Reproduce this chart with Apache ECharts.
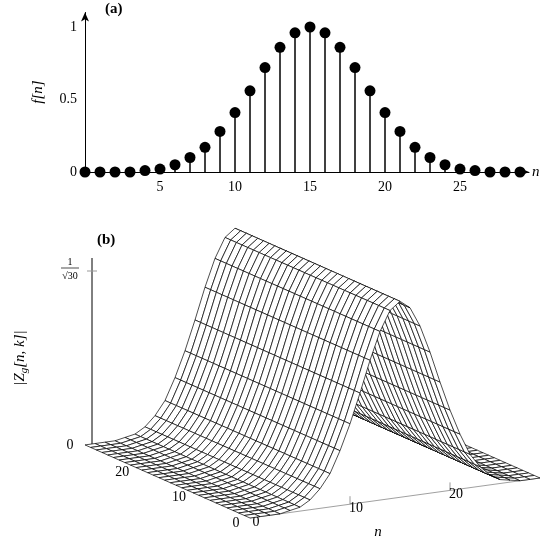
<!DOCTYPE html>
<html><head><meta charset="utf-8">
<script src="https://cdn.jsdelivr.net/npm/echarts@6/dist/echarts.min.js"></script>
<style>html,body{margin:0;background:#fff}#c{width:550px;height:540px}</style>
</head><body><div id="c"></div>
<script>
// panel (a) data: f[n]
var nValues = [0,1,2,3,4,5,6,7,8,9,10,11,12,13,14,15,16,17,18,19,20,21,22,23,24,25,26,27,28,29];
var fValues = [0,0,0,0,0.01,0.02,0.05,0.1,0.17,0.28,0.41,0.56,0.72,0.86,0.96,1,0.96,0.86,0.72,0.56,0.41,0.28,0.17,0.1,0.05,0.02,0.01,0,0,0];
var xTicks = [5,10,15,20,25];
var yTicks = [0,0.5,1];
var kTicks = [0,10,20];
var nTicks3d = [0,10,20];

var font = 'Liberation Serif';

// oblique projection for panel (b)
var O = [250,518], EN = [10,-1.38], EK = [-5.69,-2.52], EZ = 196;
function proj(n, k, z) {
  return [O[0] + n*EN[0] + k*EK[0], O[1] + n*EN[1] + k*EK[1] - z*EZ];
}

// surface cells, back to front
var cells = [];
for (var k = 28; k >= 0; k--) {
  for (var n = 28; n >= 0; n--) cells.push([n, k]);
}

var chart = echarts.init(document.getElementById('c'));

var g = [];
g.push({type:'text', left:105, top:2, style:{text:'(a)', font:'bold 15px '+font}});
g.push({type:'text', left:97, top:233, style:{text:'(b)', font:'bold 15px '+font}});
g.push({type:'text', left:532, top:165, style:{text:'n', font:'italic 15px '+font}});
g.push({type:'text', x:38, y:92, rotation:Math.PI/2, style:{text:'f[n]', font:'italic 15px '+font, align:'center', verticalAlign:'middle'}});

// 3d axes
g.push({type:'line', shape:{x1:92, y1:445, x2:92, y2:258}, style:{stroke:'#000', lineWidth:1}});
g.push({type:'line', shape:{x1:87, y1:271, x2:97, y2:271}, style:{stroke:'#999', lineWidth:1}});
g.push({type:'text', x:70, y:445, style:{text:'0', font:'14px '+font, align:'center', verticalAlign:'middle'}});
g.push({type:'text', x:70, y:262, style:{text:'1', font:'10px '+font, align:'center', verticalAlign:'middle'}});
g.push({type:'line', shape:{x1:61, y1:268, x2:79, y2:268}, style:{stroke:'#000', lineWidth:0.7}});
g.push({type:'text', x:70, y:276, style:{text:'√30', font:'10px '+font, align:'center', verticalAlign:'middle'}});
g.push({type:'text', x:20, y:358, rotation:Math.PI/2, style:{
  text:'{i||Z}{s|g}{i|[n, k]|}', align:'center', verticalAlign:'middle',
  rich:{i:{font:'italic 15px '+font}, s:{font:'italic 11px '+font, padding:[8,0,0,0]}}}});
kTicks.forEach(function (t) {
  var p = proj(0, t, 0);
  g.push({type:'text', x:p[0]-14, y:p[1]+5, style:{text:String(t), font:'14px '+font, align:'center', verticalAlign:'middle'}});
});
nTicks3d.forEach(function (t) {
  var p = proj(t, 0, 0);
  g.push({type:'line', shape:{x1:p[0], y1:p[1], x2:p[0], y2:p[1]-8}, style:{stroke:'#999'}});
  g.push({type:'text', x:p[0]+6, y:p[1]+4, style:{text:String(t), font:'14px '+font, align:'center', verticalAlign:'middle'}});
});
g.push({type:'text', x:215, y:492, style:{text:'k', font:'italic 15px '+font, align:'center', verticalAlign:'middle'}});
g.push({type:'text', x:378, y:532, style:{text:'n', font:'italic 15px '+font, align:'center', verticalAlign:'middle'}});
var a0 = proj(0,0,0), a1 = proj(29,0,0);
g.push({type:'line', z:-1, shape:{x1:a0[0], y1:a0[1], x2:a1[0], y2:a1[1]}, style:{stroke:'#888', lineWidth:0.8}});

chart.setOption({
  animation: false,
  backgroundColor: '#fff',
  textStyle: {fontFamily: font},
  graphic: g,
  grid: [
    {left:85, right:21, top:12.5, bottom:368},
    {left:0, right:0, top:0, bottom:0}
  ],
  xAxis: [
    {type:'value', gridIndex:0, min:0, max:29.6,
     axisLine:{onZero:false, symbol:['none','arrow'], symbolSize:[6,9], lineStyle:{color:'#000'}},
     axisTick:{show:false}, splitLine:{show:false},
     axisLabel:{color:'#000', fontSize:14, fontFamily:font, customValues: xTicks}},
    {type:'value', gridIndex:1, min:0, max:550, show:false}
  ],
  yAxis: [
    {type:'value', gridIndex:0, min:0, max:1.1,
     axisLine:{show:true, symbol:['none','arrow'], symbolSize:[6,9], lineStyle:{color:'#000'}},
     axisTick:{show:false}, splitLine:{show:false},
     axisLabel:{color:'#000', fontSize:14, fontFamily:font, customValues: yTicks,
       formatter:function(v){return String(v);}}},
    {type:'value', gridIndex:1, min:0, max:540, inverse:true, show:false}
  ],
  series: [
    {type:'bar', xAxisIndex:0, yAxisIndex:0, barWidth:1.5,
     data: nValues.map(function(n,i){return [n, fValues[i]];}),
     itemStyle:{color:'#000'}},
    {type:'scatter', xAxisIndex:0, yAxisIndex:0, symbolSize:11, z:3,
     data: nValues.map(function(n,i){return [n, fValues[i]];}),
     itemStyle:{color:'#000', opacity:1}},
    {type:'custom', xAxisIndex:1, yAxisIndex:1,
     data: cells,
     renderItem: function (params, api) {
       var n = api.value(0), k = api.value(1);
       var pts = [[n,k],[n+1,k],[n+1,k+1],[n,k+1]].map(function (q) {
         return api.coord(proj(q[0], q[1], fValues[q[0]]));
       });
       return {type:'polygon', shape:{points:pts},
         style:{fill:'#fff', stroke:'#000', lineWidth:0.7}};
     }}
  ]
});
</script></body></html>
